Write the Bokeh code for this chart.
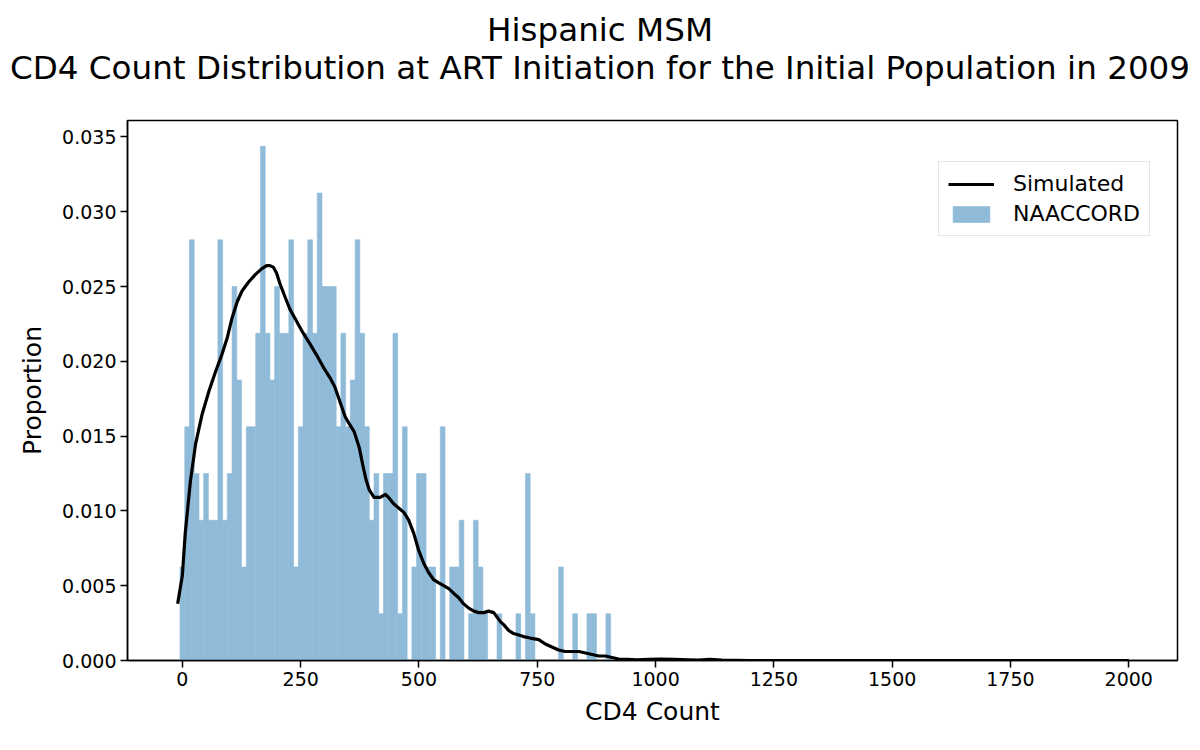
import numpy as np
from bokeh.plotting import figure
from bokeh.layouts import column
from bokeh.models import (Range1d, FixedTicker, NumeralTickFormatter, Div,
                          Legend, LegendItem, ColumnDataSource)
from bokeh.embed import file_html
from bokeh.resources import INLINE

FONT = "DejaVu Sans"

# NAACCORD histogram: CD4 bins of width 10 centred on 0, 10, ..., 900
bin_centers = list(range(0, 910, 10))
bin_width = 10
naaccord_counts = [
    2, 5, 9, 4, 3, 4, 3, 3, 9, 3,
    4, 8, 6, 2, 5, 5, 7, 11, 7, 6,
    8, 7, 7, 9, 2, 5, 7, 9, 7, 10,
    8, 8, 8, 5, 7, 5, 6, 9, 7, 5,
    3, 4, 1, 4, 4, 7, 1, 5, 0, 2,
    4, 4, 2, 2, 0, 5, 0, 2, 2, 3,
    0, 1, 3, 2, 1, 0, 0, 1, 0, 0,
    0, 1, 0, 4, 1, 0, 0, 0, 0, 0,
    2, 0, 0, 1, 0, 0, 1, 1, 0, 0,
    1,
]

# Simulated CD4 distribution (smoothed density)
sim_cd4 = [-10, 0, 6, 17, 28, 42, 56, 70, 84, 95,
           105, 116, 126, 140, 154, 168, 178, 185, 192, 199,
           206, 217, 227, 241, 255, 269, 284, 298, 312, 322,
           333, 344, 353, 363, 374, 381, 388, 395, 405, 418,
           429, 436, 446, 457, 468, 478, 489, 499, 510, 520,
           531, 541, 552, 563, 573, 584, 594, 605, 616, 626,
           637, 647, 658, 665, 672, 679, 690, 700, 711, 721,
           735, 753, 767, 781, 795, 809, 824, 838, 852, 866,
           880, 894, 908, 922, 940, 960, 985, 1010, 1040, 1070,
           1090, 1115, 1140, 1170, 1200, 1300, 1500, 1750, 2000]
sim_prop = [0.0038, 0.0057, 0.0085, 0.0120, 0.0145, 0.0165, 0.0180, 0.0193, 0.0205, 0.0216,
            0.0229, 0.0240, 0.0247, 0.0253, 0.0258, 0.0262, 0.0264, 0.0264, 0.0263, 0.0259,
            0.0252, 0.0243, 0.0235, 0.0227, 0.0219, 0.0212, 0.0204, 0.0196, 0.0189, 0.0183,
            0.0173, 0.0163, 0.0158, 0.0153, 0.0142, 0.0131, 0.0121, 0.0114, 0.0109, 0.0109,
            0.0111, 0.0109, 0.0105, 0.0102, 0.0099, 0.0094, 0.0085, 0.0074, 0.0065, 0.0059,
            0.0054, 0.0052, 0.0050, 0.0048, 0.0045, 0.0042, 0.0038, 0.0035, 0.0033, 0.0032,
            0.0032, 0.0033, 0.0032, 0.0029, 0.0026, 0.0024, 0.0020, 0.0018, 0.0017, 0.0016,
            0.0015, 0.0014, 0.0011, 0.0009, 0.0007, 0.0006, 0.0006, 0.0006, 0.0005, 0.0004,
            0.0003, 0.0003, 0.0002, 0.0001, 0.00007, 0.00005, 0.00008, 0.0001, 0.00008, 0.00005,
            0.00003, 0.00008, 0.00003, 0.00001, 0.0, 0.0, 0.0, 0.0, 0.0]

x_ticks = [0, 250, 500, 750, 1000, 1250, 1500, 1750, 2000]
y_ticks = [0.0, 0.005, 0.010, 0.015, 0.020, 0.025, 0.030, 0.035]

title_line1 = "Hispanic MSM"
title_line2 = "CD4 Count Distribution at ART Initiation for the Initial Population in 2009"

counts = np.array(naaccord_counts, dtype=float)
proportion = counts / counts.sum()
centers = np.array(bin_centers, dtype=float)
hist_src = ColumnDataSource(dict(left=centers - bin_width / 2,
                                 right=centers + bin_width / 2,
                                 top=proportion))
sim_src = ColumnDataSource(dict(x=sim_cd4, y=sim_prop))

HEADER_H = 100

p = figure(width=1200, height=750 - HEADER_H, output_backend="svg", toolbar_location=None,
           x_range=Range1d(-116, 2103), y_range=Range1d(0, 0.0361),
           min_border_left=127, min_border_right=23,
           min_border_top=120 - HEADER_H, min_border_bottom=90)
p.background_fill_color = "white"
p.border_fill_color = "white"
p.outline_line_color = "black"
p.outline_line_width = 1.5
p.grid.visible = False

bars = p.quad(left="left", right="right", bottom=0, top="top", source=hist_src,
              fill_color="#8fbbd9", line_color="#8fbbd9", line_width=0.6)
sim_line = p.line("x", "y", source=sim_src, line_color="black", line_width=3.2,
                  line_join="round")

for ax in (p.xaxis[0], p.yaxis[0]):
    ax.axis_line_color = "black"
    ax.axis_line_width = 1.5
    ax.major_tick_line_color = "black"
    ax.major_tick_line_width = 1.5
    ax.major_tick_out = 7
    ax.major_tick_in = 0
    ax.minor_tick_line_color = None
    ax.major_label_text_font = FONT
    ax.major_label_text_font_size = "19px"
    ax.major_label_text_color = "black"
    ax.axis_label_text_font = FONT
    ax.axis_label_text_font_size = "25px"
    ax.axis_label_text_font_style = "normal"
    ax.axis_label_text_color = "black"

p.xaxis.ticker = FixedTicker(ticks=x_ticks)
p.yaxis.ticker = FixedTicker(ticks=y_ticks)
p.yaxis.formatter = NumeralTickFormatter(format="0.000")
p.xaxis.axis_label = "CD4 Count"
p.yaxis.axis_label = "Proportion"
p.xaxis.major_label_standoff = 4
p.yaxis.major_label_standoff = 4
p.xaxis.axis_label_standoff = 8
p.yaxis.axis_label_standoff = 12

legend = Legend(items=[LegendItem(label="Simulated", renderers=[sim_line]),
                       LegendItem(label="NAACCORD", renderers=[bars])],
                location=(811, 424))
legend.label_text_font = FONT
legend.label_text_font_size = "22px"
legend.label_text_color = "black"
legend.glyph_width = 46
legend.glyph_height = 20
legend.label_standoff = 19
legend.padding = 9
legend.spacing = 5
legend.border_line_color = "#cccccc"
legend.border_line_width = 1.5
legend.background_fill_color = "white"
legend.background_fill_alpha = 0.8
p.add_layout(legend, "center")

# Two-line heading centred over the whole page
header = Div(text=f"{title_line1}<br>{title_line2}", width=1200, height=HEADER_H, margin=0,
             styles={"font-family": FONT, "font-size": "32.6px", "line-height": "38px",
                     "color": "black", "text-align": "center", "white-space": "nowrap",
                     "padding-top": "11px", "box-sizing": "border-box",
                     "display": "flex", "flex-direction": "column", "align-items": "center",
                     "background-color": "white", "overflow": "visible"})

page = column(header, p, spacing=0)
open("out.html", "w").write(file_html(page, INLINE))
